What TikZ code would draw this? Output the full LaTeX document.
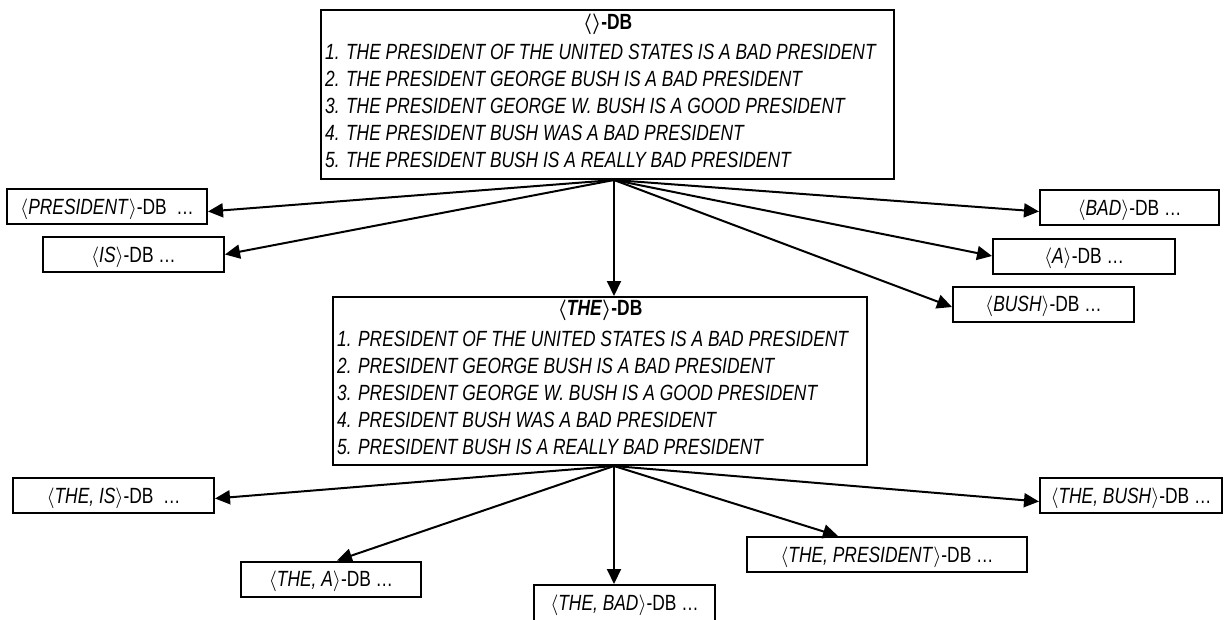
\documentclass[tikz,border=0pt]{standalone}
\usepackage{fontspec}
\setmainfont[FakeStretch=0.79]{Liberation Sans}
\usetikzlibrary{arrows.meta}
\newcommand{\dbfont}{\fontsize{22}{26}\selectfont}
\begin{document}
\begin{tikzpicture}[x=1pt,y=-1pt,
  every node/.style={font=\dbfont},
  bigbox/.style={draw,line width=2pt,inner sep=0pt},
  smallbox/.style={draw,line width=2pt,inner sep=0pt,minimum height=35pt,
    text height=15.5pt,text depth=0pt},
  dbtitle/.style={inner sep=0pt,font=\dbfont\bfseries\boldmath},
  entry/.style={anchor=west,inner sep=0pt,font=\dbfont\itshape},
  link/.style={line width=2pt,-{Triangle[length=15pt,width=14pt]}},
]
\useasboundingbox (0,0) rectangle (1224,619);

% root database
\node[bigbox,minimum width=573pt,minimum height=169pt] (top) at (607.5,94.5) {};
\node[dbtitle] (toptitle) at (607.5,24) {$\langle\rangle$-DB};
\foreach \i/\t in {
  1/{1. THE PRESIDENT OF THE UNITED STATES IS A BAD PRESIDENT},
  2/{2. THE PRESIDENT GEORGE BUSH IS A BAD PRESIDENT},
  3/{3. THE PRESIDENT GEORGE W. BUSH IS A GOOD PRESIDENT},
  4/{4. THE PRESIDENT BUSH WAS A BAD PRESIDENT},
  5/{5. THE PRESIDENT BUSH IS A REALLY BAD PRESIDENT}}
  \node[entry] (top-\i) at (325,{51.5+27.2*(\i-1)}) {\t};

% projected database for THE
\node[bigbox,minimum width=534pt,minimum height=168pt] (mid) at (600,381) {};
\node[dbtitle] (midtitle) at (600,310) {$\langle$\textit{THE}$\rangle$-DB};
\foreach \i/\t in {
  1/{1. PRESIDENT OF THE UNITED STATES IS A BAD PRESIDENT},
  2/{2. PRESIDENT GEORGE BUSH IS A BAD PRESIDENT},
  3/{3. PRESIDENT GEORGE W. BUSH IS A GOOD PRESIDENT},
  4/{4. PRESIDENT BUSH WAS A BAD PRESIDENT},
  5/{5. PRESIDENT BUSH IS A REALLY BAD PRESIDENT}}
  \node[entry] (mid-\i) at (337,{338.5+27.2*(\i-1)}) {\t};

% first-level databases
\node[smallbox,minimum width=200pt] (pres) at (107,206.5) {$\langle$\textit{PRESIDENT}$\rangle$-DB\ \ \ldots};
\node[smallbox,minimum width=181pt] (is) at (133.5,254.5) {$\langle$\textit{IS}$\rangle$-DB \ldots};
\node[smallbox,minimum width=179pt] (bad) at (1129.5,207.5) {$\langle$\textit{BAD}$\rangle$-DB \ldots};
\node[smallbox,minimum width=182pt] (a) at (1084,256) {$\langle$\textit{A}$\rangle$-DB \ldots};
\node[smallbox,minimum width=181pt] (bush) at (1043.5,304) {$\langle$\textit{BUSH}$\rangle$-DB \ldots};

% second-level databases
\node[smallbox,minimum width=201pt] (tis) at (113.5,495.5) {$\langle$\textit{THE, IS}$\rangle$-DB\ \ \ldots};
\node[smallbox,minimum width=180pt] (ta) at (331,579) {$\langle$\textit{THE, A}$\rangle$-DB \ldots};
\node[smallbox,minimum width=181pt,minimum height=36pt] (tbad) at (624.5,603) {$\langle$\textit{THE, BAD}$\rangle$-DB \ldots};
\node[smallbox,minimum width=280pt] (tpres) at (887,554.5) {$\langle$\textit{THE, PRESIDENT}$\rangle$-DB \ldots};
\node[smallbox,minimum width=182pt] (tbush) at (1131,495.5) {$\langle$\textit{THE, BUSH}$\rangle$-DB \ldots};

% connectors
\coordinate (o1) at ([xshift=6.5pt]top.south);
\coordinate (o2) at ([xshift=14pt]mid.south);
\draw[link] (o1) -- ([yshift=-5pt]pres.east);
\draw[link] (o1) -- (is.east);
\draw[link] (o1) -- ([yshift=-4pt]bad.west);
\draw[link] (o1) -- (a.west);
\draw[link] (o1) -- ([yshift=-3pt]bush.west);
\draw[link] (o1) -- (o1 |- mid.north);

\draw[link] (o2) -- ([yshift=-3pt]tis.east);
\draw[link] (o2) -- ([xshift=6pt]ta.north);
\draw[link] (o2) -- (o2 |- tbad.north);
\draw[link] (o2) -- ([xshift=-49pt]tpres.north);
\draw[link] (o2) -- ([yshift=-6pt]tbush.west);
\end{tikzpicture}
\end{document}
